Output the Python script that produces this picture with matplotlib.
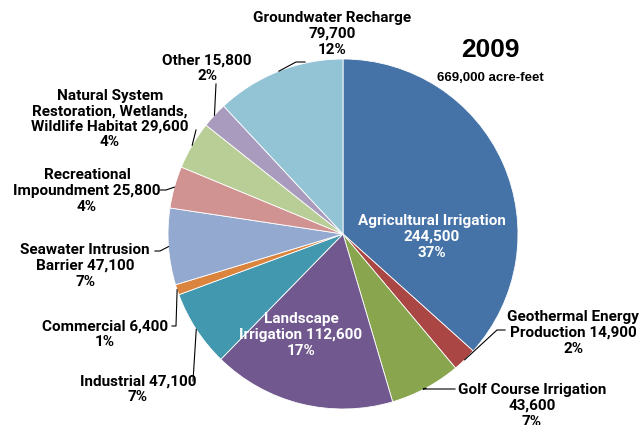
import numpy as np
import matplotlib
matplotlib.use("Agg")
from matplotlib import pyplot as plt

# data, clockwise from 12 o'clock
categories = ["Agricultural Irrigation", "Geothermal Energy Production", "Golf Course Irrigation",
              "Landscape Irrigation", "Industrial", "Commercial", "Seawater Intrusion Barrier",
              "Recreational Impoundment", "Natural System Restoration, Wetlands, Wildlife Habitat",
              "Other", "Groundwater Recharge"]
volumes = [244500, 14900, 43600, 112600, 47100, 6400, 47100, 25800, 29600, 15800, 79700]
percents = [37, 2, 7, 17, 7, 1, 7, 4, 4, 2, 12]
colors = ["#4572A7", "#AA4643", "#89A54E", "#71588F", "#4198AF", "#DB843D",
          "#93A9CF", "#D19392", "#B9CD96", "#A99BBD", "#92C4D6"]

label_text = [
    "Agricultural Irrigation\n244,500\n37%",
    "Geothermal Energy\nProduction 14,900\n2%",
    "Golf Course Irrigation\n43,600\n7%",
    "Landscape\nIrrigation 112,600\n17%",
    "Industrial 47,100\n7%",
    "Commercial 6,400\n1%",
    "Seawater Intrusion\nBarrier 47,100\n7%",
    "Recreational\nImpoundment 25,800\n4%",
    "Natural System\nRestoration, Wetlands,\nWildlife Habitat 29,600\n4%",
    "Other 15,800\n2%",
    "Groundwater Recharge\n79,700\n12%",
]

W, H = 639, 425
CX, CY, R = 343, 234, 175   # pie centre / radius in pixels (from top)

def Y(y):
    return H - y

fig = plt.figure(figsize=(W / 100, H / 100), dpi=100)
ax = fig.add_axes([0, 0, 1, 1])

wedges, _ = ax.pie(volumes, colors=colors, startangle=90, counterclock=False,
                   center=(CX, Y(CY)), radius=R,
                   wedgeprops=dict(edgecolor="white", linewidth=0.6))

# pie() resets the view, so set limits afterwards
ax.set_xlim(0, W)
ax.set_ylim(0, H)
ax.set_aspect("equal")
ax.axis("off")

narrow = ["Roboto", "DejaVu Sans"]
fs = 11

# label centre (px), leader start (px), elbow (px) ; None = inside label
placement = {
    0: ((432, 237), None, None),
    1: ((573, 333), (505, 330), (497, 330)),
    2: ((532, 406), (455, 389), (423, 389)),
    3: ((301, 335), None, None),
    4: ((138, 389), (193, 381), (193, 381)),
    5: ((105, 334), (172, 326), (176, 326)),
    6: ((85, 266), (155, 251), (160, 251)),
    7: ((87, 191), (160, 190), (166, 190)),
    8: ((110, 119), (196, 130), (196, 130)),
    9: ((207, 68), (216, 84), (216, 84)),
    10: ((332, 34), (305, 62), (296, 62)),
}

for i, w in enumerate(wedges):
    (tx, ty), start, elbow = placement[i]
    inside = start is None
    ax.text(tx, Y(ty), label_text[i], ha="center", va="center", fontsize=fs,
            fontweight="bold", family=narrow, linespacing=1.15,
            color="white" if inside else "black")
    if not inside:
        mid = np.deg2rad((w.theta1 + w.theta2) / 2)
        px = CX + R * np.cos(mid)
        py = Y(CY) + R * np.sin(mid)
        ax.plot([start[0], elbow[0], px], [Y(start[1]), Y(elbow[1]), py],
                color="black", linewidth=0.8)

ax.text(490, Y(50), "2009", ha="center", va="center", fontsize=19,
        fontweight="bold", family=["Liberation Sans", "DejaVu Sans"])
ax.text(490, Y(78), "669,000 acre-feet", ha="center", va="center", fontsize=9.5,
        fontweight="bold", family=["Liberation Sans", "DejaVu Sans"])

fig.savefig("out.png", dpi=100)
